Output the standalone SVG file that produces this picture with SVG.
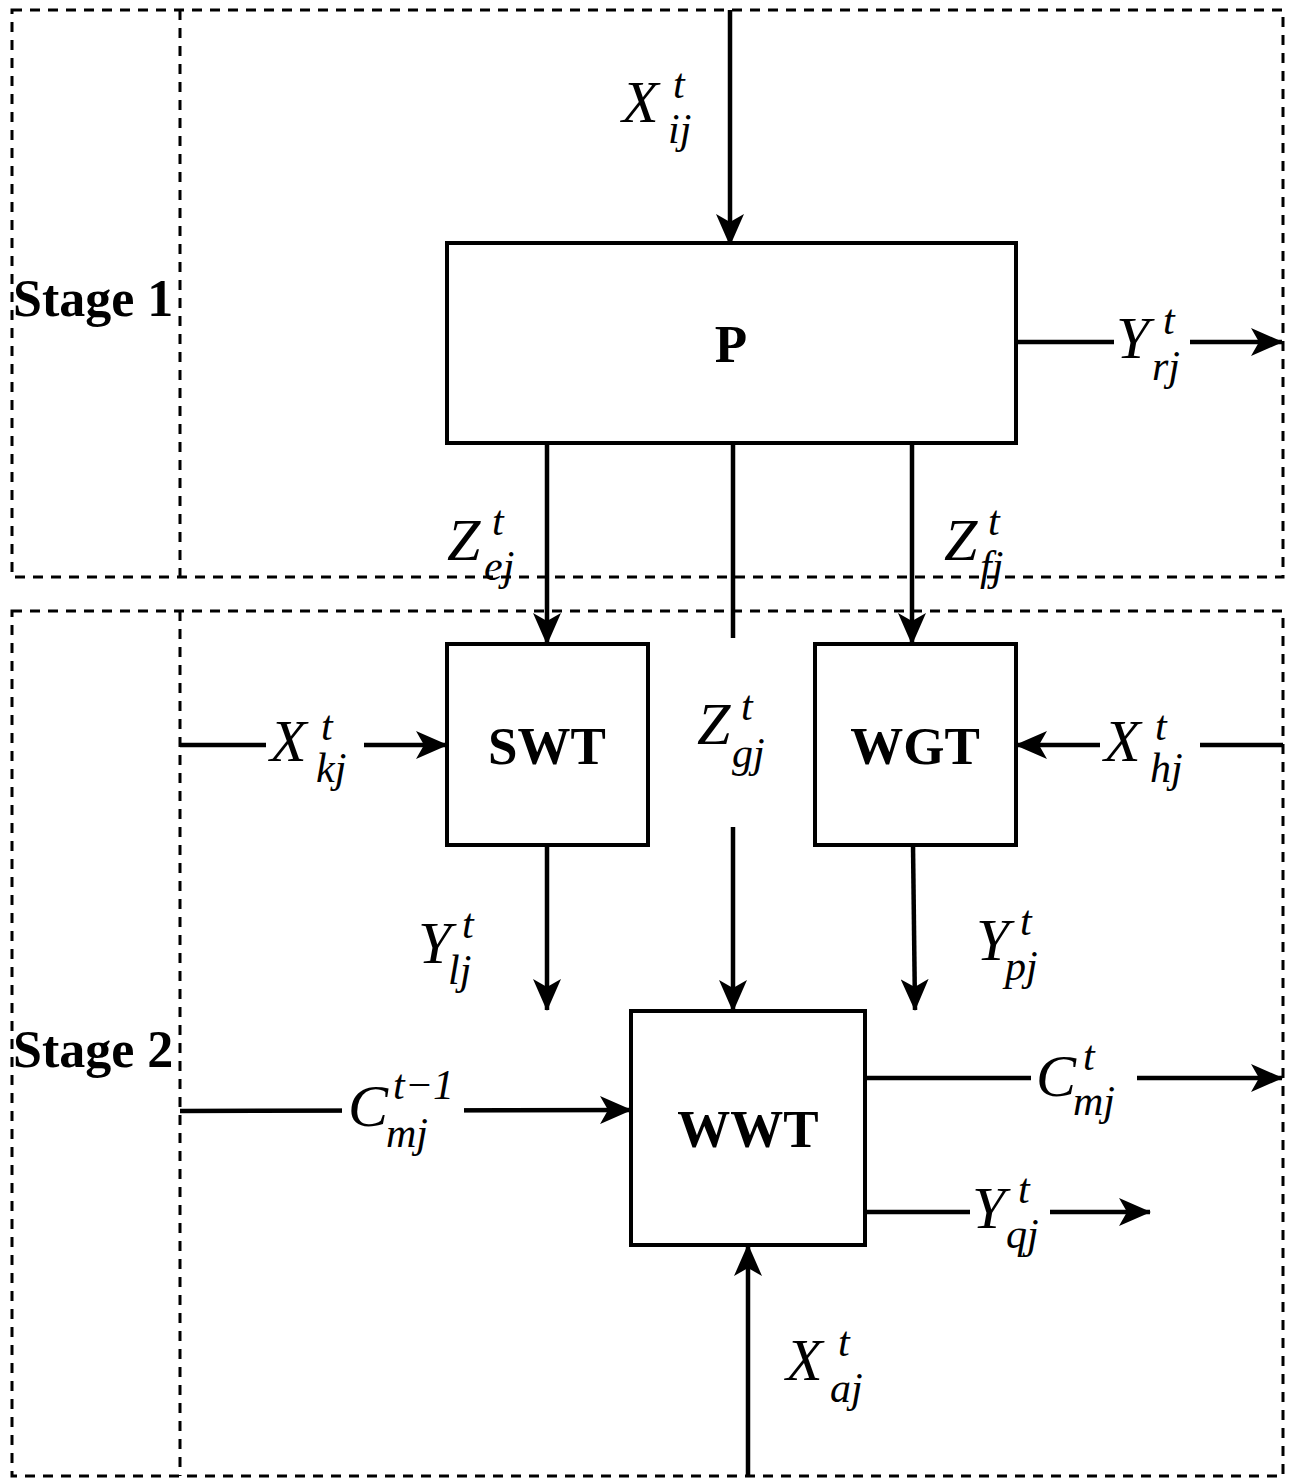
<svg xmlns="http://www.w3.org/2000/svg" width="1295" height="1479" viewBox="0 0 1295 1479">
<style>
.dash{fill:none;stroke:#000;stroke-width:3;stroke-dasharray:10 8}
.box{fill:#fff;stroke:#000;stroke-width:4}
.ln{fill:none;stroke:#000;stroke-width:4.5}
.arr{marker-end:url(#ah)}
.bt{font-family:"Liberation Serif",serif;font-weight:bold;font-size:52px;fill:#000}
.bl{font-family:"Liberation Serif",serif;font-weight:bold;font-size:53px;text-anchor:middle;fill:#000}
.m{font-family:"Liberation Serif",serif;font-style:italic;font-size:60px;fill:#000}
.s{font-family:"Liberation Serif",serif;font-style:italic;font-size:42px;fill:#000}
.bg{fill:#fff}
</style>
<defs>
<marker id="ah" viewBox="0 0 32 28" refX="31" refY="14" markerWidth="32" markerHeight="28" orient="auto" markerUnits="userSpaceOnUse">
<path d="M0,0 L32,14 L0,28 L8,14 Z" fill="#000"/>
</marker>
</defs>
<rect width="1295" height="1479" fill="#fff"/>
<g id="stage1">
<rect class="dash" x="12" y="10" width="1271" height="567"/>
<line class="dash" x1="180" y1="10" x2="180" y2="577"/>
<text class="bt" x="13" y="316">Stage 1</text>
</g>
<g id="stage2">
<rect class="dash" x="12" y="611" width="1271" height="865"/>
<line class="dash" x1="180" y1="611" x2="180" y2="1476"/>
<text class="bt" x="13" y="1067">Stage 2</text>
</g>
<g id="connectors">
<line class="ln arr" x1="730" y1="10" x2="730" y2="245"/>
<line class="ln arr" x1="1016" y1="342" x2="1282" y2="342"/>
<line class="ln arr" x1="547" y1="443" x2="547" y2="644"/>
<line class="ln" x1="733" y1="443" x2="733" y2="638"/>
<line class="ln arr" x1="733" y1="827" x2="733" y2="1011"/>
<line class="ln arr" x1="912" y1="443" x2="912" y2="644"/>
<line class="ln arr" x1="180" y1="745" x2="447" y2="745"/>
<line class="ln arr" x1="1283" y1="745" x2="1016" y2="745"/>
<line class="ln arr" x1="547" y1="845" x2="547" y2="1010"/>
<line class="ln arr" x1="913" y1="845" x2="915" y2="1010"/>
<line class="ln arr" x1="180" y1="1111" x2="631" y2="1110"/>
<line class="ln arr" x1="865" y1="1078" x2="1282" y2="1078"/>
<line class="ln arr" x1="865" y1="1212" x2="1150" y2="1212"/>
<line class="ln arr" x1="748" y1="1476" x2="748" y2="1245"/>
</g>
<g id="node-P">
<rect class="box" x="447" y="243" width="569" height="200"/>
<text class="bl" x="731" y="362">P</text>
</g>
<g id="node-SWT">
<rect class="box" x="447" y="644" width="201" height="201"/>
<text class="bl" x="547" y="764">SWT</text>
</g>
<g id="node-WGT">
<rect class="box" x="815" y="644" width="201" height="201"/>
<text class="bl" x="915" y="764">WGT</text>
</g>
<g id="node-WWT">
<rect class="box" x="631" y="1011" width="234" height="234"/>
<text class="bl" x="748" y="1147">WWT</text>
</g>
<g id="labels">
<g id="lbl-Xij"><text class="m" x="622" y="122">X</text><text class="s" x="673" y="98">t</text><text class="s" x="668" y="143">ij</text></g>
<g id="lbl-Yrj"><rect class="bg" x="1114" y="305" width="76" height="80"/><text class="m" x="1116" y="358">Y</text><text class="s" x="1163" y="334">t</text><text class="s" x="1152" y="380">rj</text></g>
<g id="lbl-Zej"><text class="m" x="447" y="560">Z</text><text class="s" x="492" y="535">t</text><text class="s" x="484" y="580">ej</text></g>
<g id="lbl-Zfj"><text class="m" x="944" y="560">Z</text><text class="s" x="988" y="535">t</text><text class="s" x="980" y="580">fj</text></g>
<g id="lbl-Zgj"><text class="m" x="697" y="744">Z</text><text class="s" x="741" y="720">t</text><text class="s" x="732" y="767">gj</text></g>
<g id="lbl-Xkj"><rect class="bg" x="266" y="705" width="98" height="82"/><text class="m" x="270" y="761">X</text><text class="s" x="321" y="740">t</text><text class="s" x="316" y="782">kj</text></g>
<g id="lbl-Xhj"><rect class="bg" x="1100" y="705" width="100" height="82"/><text class="m" x="1104" y="761">X</text><text class="s" x="1155" y="740">t</text><text class="s" x="1150" y="782">hj</text></g>
<g id="lbl-Ylj"><text class="m" x="418" y="963">Y</text><text class="s" x="462" y="938">t</text><text class="s" x="448" y="984">lj</text></g>
<g id="lbl-Ypj"><text class="m" x="976" y="960">Y</text><text class="s" x="1020" y="935">t</text><text class="s" x="1005" y="980">pj</text></g>
<g id="lbl-Cmj1"><rect class="bg" x="342" y="1066" width="122" height="86"/><text class="m" x="348" y="1126">C</text><text class="s" x="393" y="1099">t−1</text><text class="s" x="386" y="1147">mj</text></g>
<g id="lbl-Cmj"><rect class="bg" x="1031" y="1042" width="106" height="80"/><text class="m" x="1036" y="1096">C</text><text class="s" x="1083" y="1070">t</text><text class="s" x="1073" y="1115">mj</text></g>
<g id="lbl-Yqj"><rect class="bg" x="970" y="1176" width="80" height="76"/><text class="m" x="972" y="1228">Y</text><text class="s" x="1018" y="1203">t</text><text class="s" x="1006" y="1248">qj</text></g>
<g id="lbl-Xaj"><text class="m" x="786" y="1380">X</text><text class="s" x="838" y="1356">t</text><text class="s" x="830" y="1402">aj</text></g>
</g>
</svg>
